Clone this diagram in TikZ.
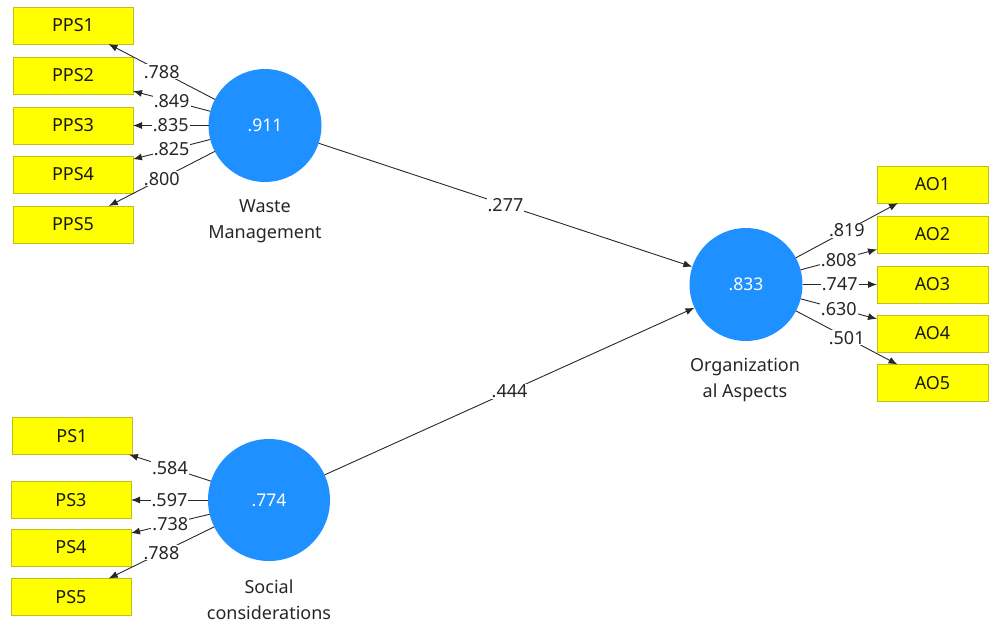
\documentclass[tikz,border=0pt]{standalone}
\usepackage{fontspec}
\setmainfont{Noto Sans}
\usetikzlibrary{arrows.meta}
\definecolor{lvblue}{RGB}{30,144,255}
\definecolor{boxyellow}{RGB}{255,255,0}
\definecolor{boxedge}{RGB}{190,190,30}
\definecolor{linegray}{RGB}{40,40,40}
\tikzset{
  ind/.style={draw=boxedge, line width=0.8pt, fill=boxyellow, minimum height=37pt, inner sep=0pt, outer sep=0pt, font=\fontsize{18}{21}\selectfont, text=black!90},
  indl/.style={ind, minimum width=120pt},
  indr/.style={ind, minimum width=111pt},
  lv/.style={circle, fill=lvblue, inner sep=0pt, outer sep=0pt, text=white, font=\fontsize{17.5}{20}\selectfont},
  lvname/.style={align=center, font=\fontsize{18}{26}\selectfont, text=black!85, inner sep=0pt},
  arr/.style={draw=linegray, line width=0.9pt, -{Latex[length=9pt,width=7pt]}},
  lbl/.style={midway, fill=white, inner sep=1pt, font=\fontsize{18}{21}\selectfont, text=black!85}
}
\begin{document}
\begin{tikzpicture}[x=1pt,y=-1pt]
\useasboundingbox (0,0) rectangle (989,625);
% latent variables
\node[lv, minimum size=113pt] (wm) at (265,125.5) {.911};
\node[lv, minimum size=113pt] (oa) at (746,284.5) {.833};
\node[lv, minimum size=122pt] (sc) at (269,500) {.774};
\node[lvname] (wmn) at (265,221) {Waste\\Management};
\node[lvname] (oan) at (745,380) {Organization\\al Aspects};
\node[lvname] (scn) at (269,600) {Social\\considerations};
% indicators WM
\node[indl] (pps1) at (73,25.5) {PPS1};
\node[indl] (pps2) at (73,75.5) {PPS2};
\node[indl] (pps3) at (73,125.5) {PPS3};
\node[indl] (pps4) at (73,174.5) {PPS4};
\node[indl] (pps5) at (73,224.5) {PPS5};
% indicators SC
\node[indl] (ps1) at (72,436) {PS1};
\node[indl] (ps3) at (71,500) {PS3};
\node[indl] (ps4) at (71,547.5) {PS4};
\node[indl] (ps5) at (71,597) {PS5};
% indicators OA
\node[indr] (ao1) at (932.5,184.5) {AO1};
\node[indr] (ao2) at (932.5,234.5) {AO2};
\node[indr] (ao3) at (932.5,284.5) {AO3};
\node[indr] (ao4) at (932.5,333.5) {AO4};
\node[indr] (ao5) at (932.5,383) {AO5};
% loadings
\draw[arr] (wm) -- node[lbl]{.788} (pps1);
\draw[arr] (wm) -- node[lbl]{.849} (pps2);
\draw[arr] (wm) -- node[lbl]{.835} (pps3);
\draw[arr] (wm) -- node[lbl]{.825} (pps4);
\draw[arr] (wm) -- node[lbl]{.800} (pps5);
\draw[arr] (sc) -- node[lbl]{.584} (ps1);
\draw[arr] (sc) -- node[lbl]{.597} (ps3);
\draw[arr] (sc) -- node[lbl]{.738} (ps4);
\draw[arr] (sc) -- node[lbl]{.788} (ps5);
\draw[arr] (oa) -- node[lbl]{.819} (ao1);
\draw[arr] (oa) -- node[lbl]{.808} (ao2);
\draw[arr] (oa) -- node[lbl]{.747} (ao3);
\draw[arr] (oa) -- node[lbl]{.630} (ao4);
\draw[arr] (oa) -- node[lbl]{.501} (ao5);
% paths
\draw[arr] (wm) -- node[lbl]{.277} (oa);
\draw[arr] (sc) -- node[lbl]{.444} (oa);
\end{tikzpicture}
\end{document}
